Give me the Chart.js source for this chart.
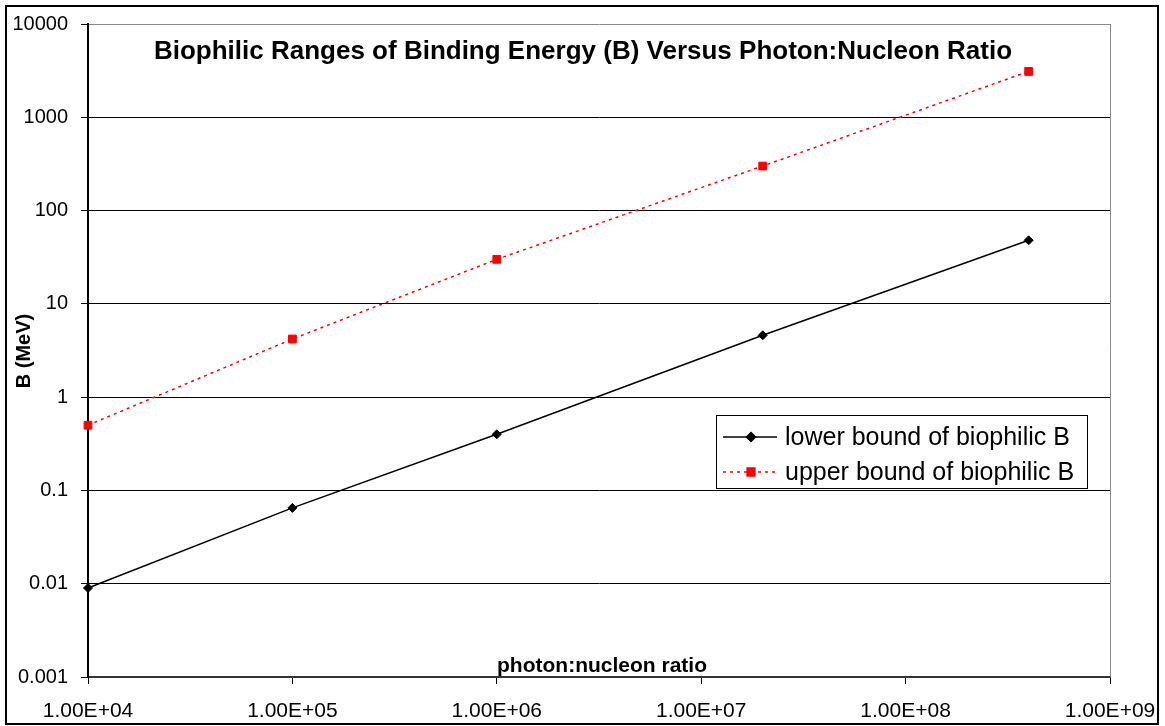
<!DOCTYPE html>
<html>
<head>
<meta charset="utf-8">
<script src="https://cdn.jsdelivr.net/npm/chart.js@4.4.1/dist/chart.umd.min.js"></script>
<style>
	html, body {margin: 0; padding: 0; background: #fff;}
	canvas {display: block;}
</style>
</head>
<body>
<canvas id="chart" width="1165" height="726"></canvas>
<script>
const ratios = [1e4, 1e5, 1e6, 2e7, 4e8]
const lowerB = [0.009, 0.065, 0.4, 4.6, 48]
const upperB = [0.5, 4.2, 30, 300, 3100]
const xTickValues = [1e4, 1e5, 1e6, 1e7, 1e8, 1e9]
const xTickLabels = ['1.00E+04', '1.00E+05', '1.00E+06', '1.00E+07', '1.00E+08', '1.00E+09']
const yTickValues = [0.001, 0.01, 0.1, 1, 10, 100, 1000, 10000]
const yTickLabels = ['0.001', '0.01', '0.1', '1', '10', '100', '1000', '10000']
const seriesNames = ['lower bound of biophilic B', 'upper bound of biophilic B']

const font = 'Arial, "Liberation Sans", sans-serif'

function points(ys) {
	return ratios.map((x, i) => ({x, y: ys[i]}))
}

// title, axis titles, frame and legend drawn by hand, like the Excel original
const decorations = {
	id: 'decorations',
	afterDraw(chart) {
		const {ctx, chartArea} = chart
		ctx.save()
		// right border of the plot area
		ctx.strokeStyle = '#888'
		ctx.lineWidth = 1
		ctx.beginPath()
		ctx.moveTo(chartArea.right + 0.5, chartArea.top)
		ctx.lineTo(chartArea.right + 0.5, chartArea.bottom)
		ctx.stroke()
		// outer frame
		ctx.strokeStyle = '#000'
		ctx.lineWidth = 2
		ctx.strokeRect(6, 6, 1152, 718)

		ctx.fillStyle = '#000'
		ctx.textAlign = 'center'
		ctx.textBaseline = 'middle'
		ctx.font = `bold 26px ${font}`
		ctx.fillText('Biophilic Ranges of Binding Energy (B) Versus Photon:Nucleon Ratio', 583, 52)
		ctx.font = `bold 21px ${font}`
		ctx.fillText('photon:nucleon ratio', 602, 666)
		ctx.save()
		ctx.translate(24, 351)
		ctx.rotate(-Math.PI / 2)
		ctx.font = `bold 20px ${font}`
		ctx.fillText('B (MeV)', 0, 0)
		ctx.restore()

		// legend
		const box = {x: 716, y: 415, w: 371, h: 73}
		ctx.fillStyle = '#fff'
		ctx.fillRect(box.x, box.y, box.w, box.h)
		ctx.strokeStyle = '#000'
		ctx.lineWidth = 1
		ctx.strokeRect(box.x + 0.5, box.y + 0.5, box.w, box.h)
		const rows = [437, 472]
		chart.data.datasets.forEach((ds, i) => {
			const y = rows[i]
			ctx.strokeStyle = ds.borderColor
			ctx.lineWidth = ds.borderWidth
			ctx.setLineDash(ds.borderDash || [])
			ctx.beginPath()
			ctx.moveTo(723, y)
			ctx.lineTo(777, y)
			ctx.stroke()
			ctx.setLineDash([])
			Chart.helpers.drawPoint(ctx, {
				pointStyle: ds.pointStyle, radius: ds.pointRadius, borderWidth: 1, rotation: 0,
			}, 751, y)
			ctx.fillStyle = ds.pointBackgroundColor
			ctx.strokeStyle = ds.pointBorderColor
			ctx.fill()
			ctx.fillStyle = '#000'
			ctx.textAlign = 'left'
			ctx.font = `25px ${font}`
			ctx.fillText(seriesNames[i], 785, y + 1)
		})
		ctx.restore()
	},
}

new Chart(document.getElementById('chart'), {
	type: 'scatter',
	data: {
		datasets: [{
			label: seriesNames[0],
			data: points(lowerB),
			showLine: true,
			borderColor: '#000',
			borderWidth: 1.5,
			pointStyle: 'rectRot',
			pointRadius: 4.5,
			pointBackgroundColor: '#000',
			pointBorderColor: '#000',
			pointBorderWidth: 1,
			clip: false,
		}, {
			label: seriesNames[1],
			data: points(upperB),
			showLine: true,
			borderColor: '#ff0000',
			borderWidth: 1.5,
			borderDash: [3, 4],
			pointStyle: 'rect',
			pointRadius: 5.5,
			pointBackgroundColor: '#ff0000',
			pointBorderColor: '#ff0000',
			pointBorderWidth: 1,
			clip: false,
		}],
	},
	options: {
		responsive: false,
		animation: false,
		devicePixelRatio: 1,
		layout: {padding: {left: 0, top: 24, right: 55, bottom: 0}},
		scales: {
			x: {
				type: 'logarithmic',
				min: 1e4,
				max: 1e9,
				afterFit: scale => {
					scale.height = 49
					scale.paddingLeft = 0
					scale.paddingRight = 0
				},
				afterBuildTicks: scale => { scale.ticks = xTickValues.map(value => ({value})) },
				grid: {drawOnChartArea: false, drawTicks: true, tickLength: 7, tickColor: '#000', lineWidth: 1},
				border: {color: '#333', width: 2},
				ticks: {
					color: '#000',
					font: {family: font, size: 21},
					padding: 15,
					maxRotation: 0,
					autoSkip: false,
					callback: (value) => xTickLabels[xTickValues.indexOf(value)],
				},
			},
			y: {
				type: 'logarithmic',
				min: 0.001,
				max: 10000,
				afterFit: scale => {
					scale.width = 88
					scale.paddingTop = 0
					scale.paddingBottom = 0
				},
				afterBuildTicks: scale => { scale.ticks = yTickValues.map(value => ({value})) },
				grid: {
					color: c => c.tick && c.tick.value === 10000 ? '#888' : '#000',
					tickColor: '#000',
					tickLength: 7,
					lineWidth: 1,
				},
				border: {color: '#000', width: 2},
				ticks: {
					color: '#000',
					font: {family: font, size: 20},
					padding: 13,
					autoSkip: false,
					callback: (value) => yTickLabels[yTickValues.indexOf(value)],
				},
			},
		},
		plugins: {
			legend: {display: false},
			tooltip: {enabled: false},
		},
	},
	plugins: [decorations],
})
</script>
</body>
</html>
